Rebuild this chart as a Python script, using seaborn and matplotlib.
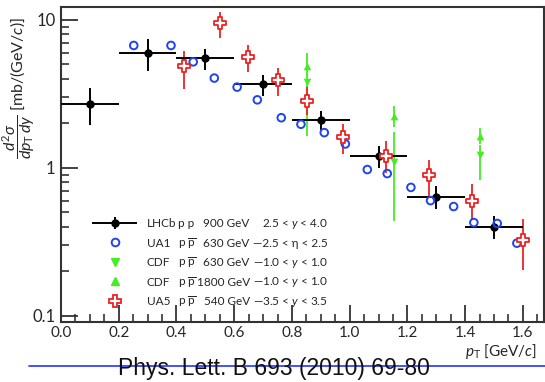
import numpy as np
import pandas as pd
import seaborn as sns
import matplotlib.pyplot as plt
from matplotlib.lines import Line2D
from matplotlib.legend_handler import HandlerErrorbar
from matplotlib.ticker import FixedLocator, LogLocator, NullFormatter, MultipleLocator

# %%
# LHCb p p 900 GeV
lhcb_pt = [0.1, 0.3, 0.5, 0.7, 0.9, 1.1, 1.3, 1.5]
lhcb_xerr = [0.1, 0.1, 0.1, 0.1, 0.1, 0.1, 0.1, 0.1]
lhcb_y = [2.71, 6.01, 5.48, 3.69, 2.09, 1.21, 0.64, 0.401]
lhcb_hi = [3.47, 7.44, 6.37, 4.24, 2.42, 1.41, 0.756, 0.476]
lhcb_lo = [1.95, 4.52, 4.59, 3.07, 1.80, 1.00, 0.528, 0.333]

# UA1 p pbar 630 GeV
ua1_pt = [0.252, 0.381, 0.458, 0.531, 0.610, 0.680, 0.763, 0.831, 0.912,
          0.985, 1.061, 1.130, 1.212, 1.280, 1.360, 1.430, 1.511, 1.579]
ua1_y = [6.71, 6.71, 5.20, 4.04, 3.51, 2.88, 2.18, 1.97, 1.73,
         1.45, 0.974, 0.915, 0.738, 0.601, 0.548, 0.427, 0.421, 0.310]

# CDF p pbar 630 GeV (down triangles)
cdf630_pt = [0.852, 1.152, 1.451]
cdf630_y = [3.83, 1.10, 1.22]
cdf630_hi = [4.30, 1.76, 1.42]
cdf630_lo = [1.63, 0.44, 0.83]

# CDF p pbar 1800 GeV (up triangles)
cdf1800_pt = [0.852, 1.152, 1.451]
cdf1800_y = [4.84, 2.25, 1.65]
cdf1800_hi = [5.96, 2.63, 1.85]
cdf1800_lo = [4.20, 1.90, 1.45]

# UA5 p pbar 540 GeV
ua5_pt = [0.425, 0.551, 0.649, 0.753, 0.852, 0.976, 1.126, 1.275, 1.423, 1.599]
ua5_y = [4.84, 9.44, 5.62, 3.91, 2.82, 1.61, 1.21, 0.897, 0.601, 0.326]
ua5_hi = [6.17, 11.27, 6.78, 4.76, 3.49, 1.97, 1.51, 1.13, 0.78, 0.45]
ua5_lo = [3.42, 7.59, 4.45, 3.07, 2.28, 1.24, 0.921, 0.64, 0.45, 0.205]

leg_names = ['LHCb', 'UA1', 'CDF', 'CDF', 'UA5']
leg_beams = ['p p', r'p $\overline{\mathrm{p}}$', r'p $\overline{\mathrm{p}}$',
             r'p $\overline{\mathrm{p}}$', r'p $\overline{\mathrm{p}}$']
leg_energy = ['900 GeV', '630 GeV', '630 GeV', '1800 GeV', '540 GeV']
leg_range = [r'2.5 < $y$ < 4.0', '—2.5 < η < 2.5', r'—1.0 < $y$ < 1.0',
             r'—1.0 < $y$ < 1.0', r'—3.5 < $y$ < 3.5']

black = '#000000'
blue = '#2244ee'
green = '#44ee22'
red = '#ee2222'

# %%
sns.set_style('ticks')
plt.rcParams['font.family'] = ['Lato', 'DejaVu Sans']
plt.rcParams['mathtext.fontset'] = 'custom'
plt.rcParams['mathtext.rm'] = 'Lato'
plt.rcParams['mathtext.it'] = 'Lato:italic'
plt.rcParams['mathtext.bf'] = 'Lato:bold'

fig = plt.figure(figsize=(5.45, 3.82), dpi=100)
ax = fig.add_axes([61 / 545, 1 - 322 / 382, 483 / 545, 315 / 382])


def yerr_of(y, lo, hi):
    y = np.array(y)
    return [y - np.array(lo), np.array(hi) - y]


# error bars
h_lhcb = ax.errorbar(lhcb_pt, lhcb_y, xerr=lhcb_xerr, yerr=yerr_of(lhcb_y, lhcb_lo, lhcb_hi),
                     fmt='o', color=black, ms=5, lw=1.4, capsize=0, zorder=4)
ax.errorbar(cdf630_pt, cdf630_y, yerr=yerr_of(cdf630_y, cdf630_lo, cdf630_hi),
            fmt='none', ecolor=green, lw=1.3, zorder=2)
ax.errorbar(cdf1800_pt, cdf1800_y, yerr=yerr_of(cdf1800_y, cdf1800_lo, cdf1800_hi),
            fmt='none', ecolor=green, lw=1.3, zorder=2)
ax.errorbar(ua5_pt, ua5_y, yerr=yerr_of(ua5_y, ua5_lo, ua5_hi),
            fmt='none', ecolor=red, lw=1.3, zorder=3)

# markers through seaborn
sns.scatterplot(x=ua1_pt, y=ua1_y, ax=ax, marker='o', s=30, facecolor='none',
                edgecolor=blue, linewidth=1.4, zorder=5)
sns.scatterplot(x=cdf630_pt, y=cdf630_y, ax=ax, marker='v', s=30, color=green,
                linewidth=0, zorder=5)
sns.scatterplot(x=cdf1800_pt, y=cdf1800_y, ax=ax, marker='^', s=30, color=green,
                linewidth=0, zorder=5)
sns.scatterplot(x=ua5_pt, y=ua5_y, ax=ax, marker='P', s=70, facecolor='white',
                edgecolor=red, linewidth=1.3, zorder=6)

ax.set_yscale('log')
ax.set_xlim(0, 1.673)
ax.set_ylim(0.091, 12.2)

ax.xaxis.set_minor_locator(MultipleLocator(0.05))
ax.set_xticks(np.arange(0, 1.61, 0.2))
ax.set_xticklabels([f'{v:.1f}' for v in np.arange(0, 1.61, 0.2)])
ax.yaxis.set_major_locator(FixedLocator([0.1, 1, 10]))
ax.set_yticklabels(['0.1', '1', '10'])
ax.yaxis.set_minor_locator(LogLocator(base=10, subs=np.arange(2, 10)))
ax.yaxis.set_minor_formatter(NullFormatter())

ax.tick_params(axis='both', which='major', direction='in', length=12, width=1.3,
               labelsize=11, color='#333333')
ax.tick_params(axis='both', which='minor', direction='in', length=6, width=1.2,
               color='#333333')
ax.tick_params(axis='y', labelsize=12, pad=4)
ax.tick_params(axis='x', pad=3)
for s in ax.spines.values():
    s.set_linewidth(1.5)
    s.set_color('#333333')
    s.set_visible(True)

ax.set_ylabel(r'$\dfrac{d^2\sigma}{dp_\mathrm{T}\,dy}$ [mb/(GeV/$c$)]', fontsize=11.5)
ax.yaxis.set_label_coords(-0.05, 0.968)
ax.yaxis.label.set_horizontalalignment('right')
ax.set_xlabel(r'$p_\mathrm{T}$ [GeV/$c$]', fontsize=11)
ax.xaxis.set_label_coords(0.986, -0.063)
ax.xaxis.label.set_horizontalalignment('right')
ax.xaxis.label.set_verticalalignment('top')

# legend: handles + name column, other columns aligned on the rows
handles = [
    h_lhcb,
    Line2D([], [], ls='none', marker='o', mfc='none', mec=blue, mew=1.4, ms=5.5),
    Line2D([], [], ls='none', marker='v', color=green, ms=6),
    Line2D([], [], ls='none', marker='^', color=green, ms=6),
    Line2D([], [], ls='none', marker='P', mfc='white', mec=red, mew=1.3, ms=8),
]
leg = ax.legend(handles, leg_names, loc='upper left', bbox_to_anchor=(0.0636, 0.33),
                frameon=False, fontsize=8.5, handlelength=3.9, handletextpad=0.75,
                labelspacing=0.72, borderpad=0, borderaxespad=0,
                handler_map={type(h_lhcb): HandlerErrorbar(xerr_size=1.9, yerr_size=0.5)})
fig.canvas.draw()
inv = ax.transAxes.inverted()
for i, t in enumerate(leg.get_texts()):
    bb = t.get_window_extent()
    yc = inv.transform(((bb.x0 + bb.x1) / 2, (bb.y0 + bb.y1) / 2))[1]
    ax.text(0.242, yc, leg_beams[i], transform=ax.transAxes, fontsize=8.5, va='center', ha='left')
    ax.text(0.391, yc, leg_energy[i], transform=ax.transAxes, fontsize=8.5, va='center', ha='right')
    ax.text(0.553, yc, leg_range[i], transform=ax.transAxes, fontsize=8.5, va='center', ha='right')

# reference footer
fig.add_artist(Line2D([29 / 545, 1.0], [1 - 366 / 382] * 2, color='#2233ff', lw=1.2))
fig.text(0.502, 1 - 368 / 382, 'Phys. Lett. B 693 (2010) 69-80', ha='center', va='center',
         fontsize=16.5, family='Liberation Sans', color='#111111')

fig.savefig('out.png', dpi=100)
